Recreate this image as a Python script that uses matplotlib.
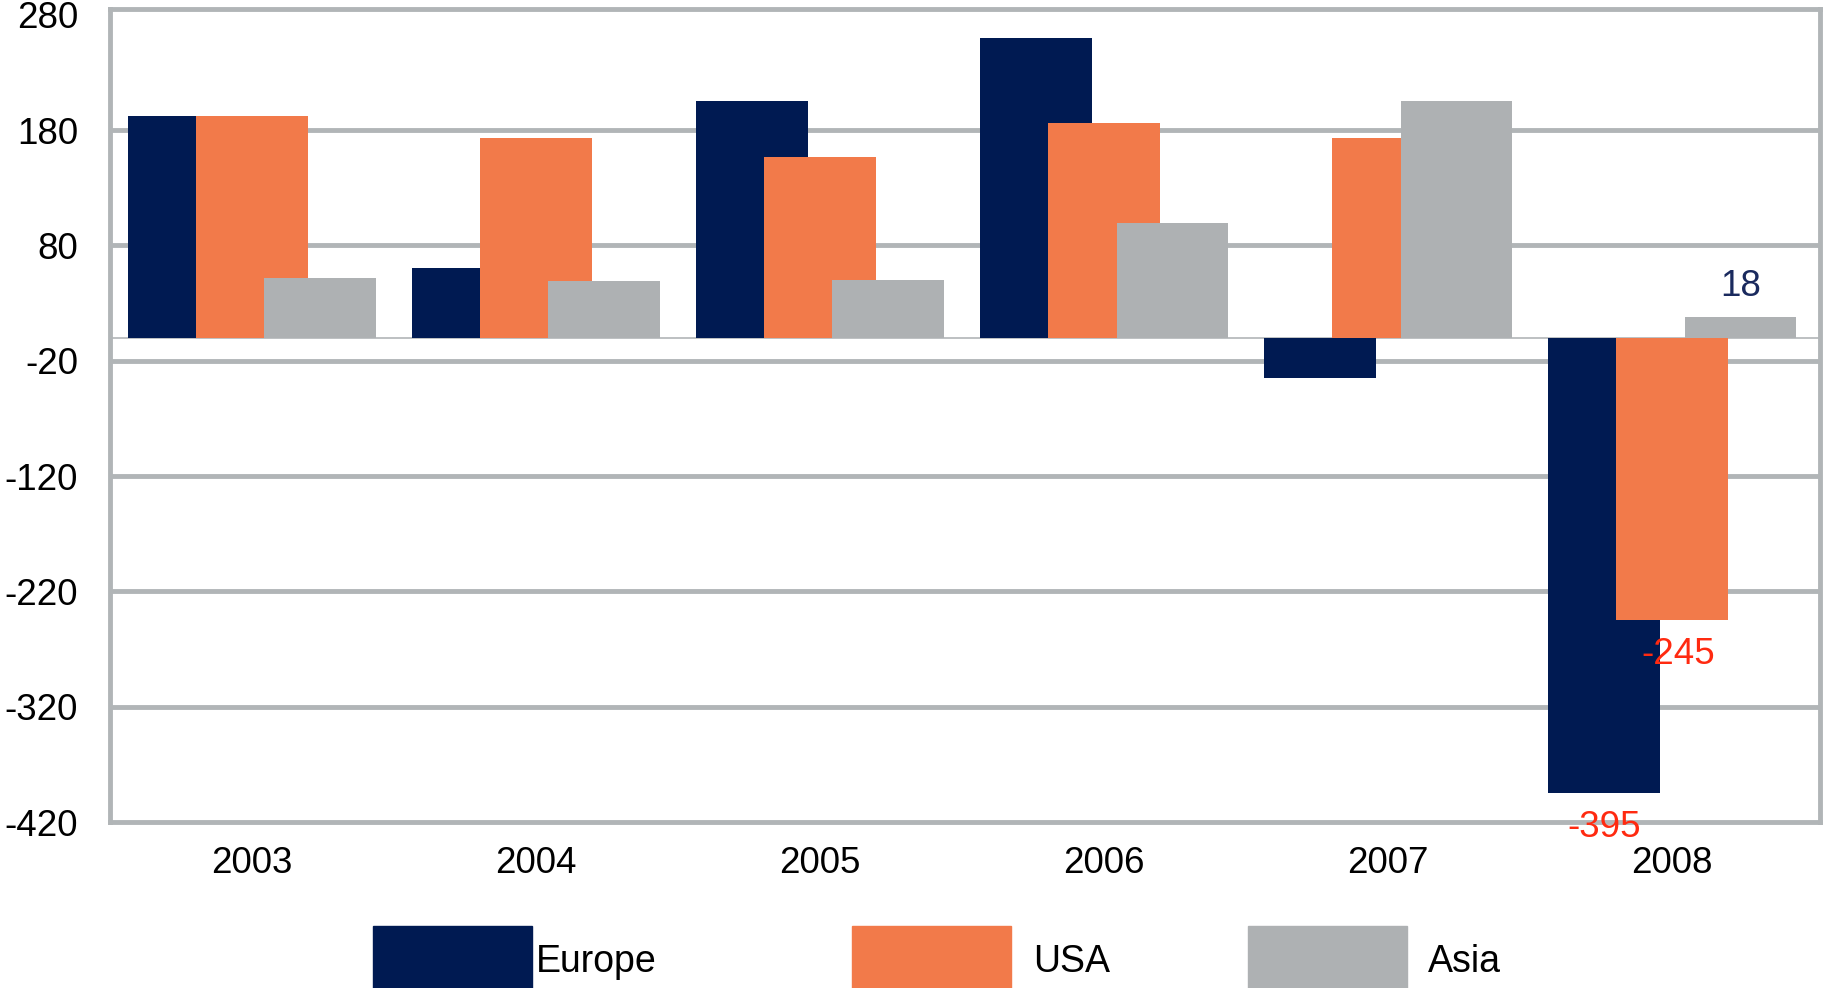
import matplotlib
matplotlib.use("Agg")
import matplotlib.pyplot as plt
from matplotlib.patches import Rectangle
import numpy as np

years = ["2003", "2004", "2005", "2006", "2007", "2008"]
europe = [192, 60, 205, 260, -35, -395]
usa = [192, 173, 157, 186, 173, -245]
asia = [52, 49, 50, 99, 205, 18]
yticks = [280, 180, 80, -20, -120, -220, -320, -420]

c_eu = "#001a52"
c_us = "#f27a4a"
c_as = "#aeb1b3"
c_grid = "#b1b5b7"

plt.rcParams['font.family'] = ['Liberation Sans', 'DejaVu Sans']

fig = plt.figure(figsize=(18.25, 9.88), dpi=100)
ax = fig.add_axes([110/1825, 166/988, 1710/1825, 813/988])

x = np.arange(len(years))
w = 0.393
off = 0.24
ax.bar(x - off, europe, w, color=c_eu, zorder=3)
ax.bar(x, usa, w, color=c_us, zorder=4)
ax.bar(x + off, asia, w, color=c_as, zorder=5)

ax.set_xlim(-0.5, 5.52)
ax.set_ylim(-418, 285)
ax.set_yticks(yticks)
ax.set_yticklabels([str(v) for v in yticks])
ax.set_xticks(x)
ax.set_xticklabels(years)
ax.tick_params(axis='y', length=0, pad=23, labelsize=26.5)
ax.tick_params(axis='x', length=0, pad=17, labelsize=26.5)
ax.grid(axis='y', color=c_grid, linewidth=3.5, zorder=1)
ax.set_axisbelow(True)
gl = ax.yaxis.get_gridlines()
gl[0].set_visible(False)
gl[-1].set_visible(False)
ax.axhline(0, color=c_grid, linewidth=1.2, zorder=2)
for s in ax.spines.values():
    s.set_color(c_grid)
    s.set_linewidth(3.5)

# value labels for 2008
ax.annotate("18", (x[5] + off, asia[5]), xytext=(0, 22), textcoords='offset points',
            ha='center', va='center', fontsize=26.5, color="#1a2a5e")
ax.annotate("-245", (x[5] + 0.02, usa[5]), xytext=(0, -25), textcoords='offset points',
            ha='center', va='center', fontsize=26.5, color="#ff2a10")
ax.annotate("-395", (x[5] - off, europe[5]), xytext=(0, -25), textcoords='offset points',
            ha='center', va='center', fontsize=26.5, color="#ff2a10")

# legend (manual, cropped at the bottom like the reference)
W, H = 1825, 988
entries = [("Europe", c_eu, 373, 536), ("USA", c_us, 852, 1033), ("Asia", c_as, 1248, 1428)]
for name, col, px, tx in entries:
    fig.patches.append(Rectangle((px / W, -10 / H), 159 / W, 72 / H,
                                 transform=fig.transFigure, color=col, zorder=5))
    fig.text(tx / W, (988 - 962) / H, name, ha='left', va='center', fontsize=27)

fig.savefig("out.png", dpi=100)
